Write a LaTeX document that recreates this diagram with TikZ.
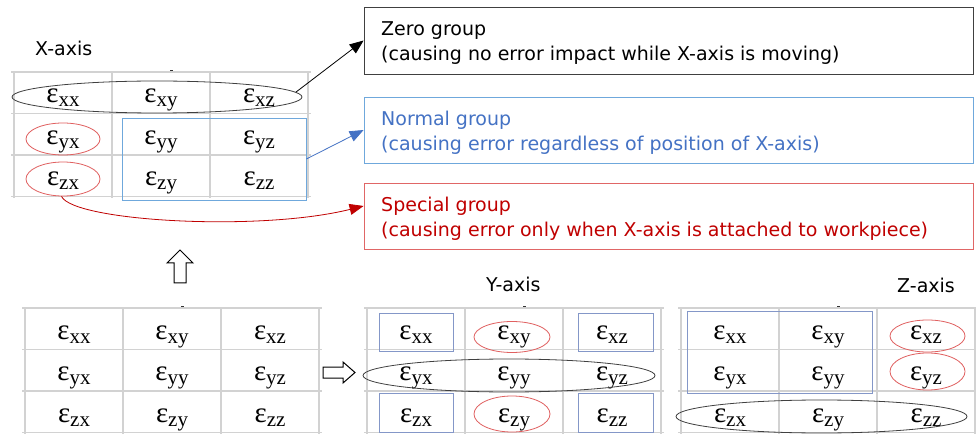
\documentclass[tikz,border=0pt]{standalone}
\usepackage{fontspec}
\usetikzlibrary{shapes.geometric,arrows.meta,calc}
\newfontfamily\labelfont{DejaVu Sans}
\newfontfamily\symfont{Liberation Serif}
\definecolor{gridgray}{RGB}{210,210,210}
\definecolor{ringgray}{RGB}{64,64,64}
\definecolor{ringred}{RGB}{224,96,96}
\definecolor{boxblue}{RGB}{111,168,220}
\definecolor{textblue}{RGB}{68,114,196}
\definecolor{slateblue}{RGB}{132,151,200}
\definecolor{textred}{RGB}{192,0,0}
\definecolor{boxred}{RGB}{224,102,102}

% strain component: epsilon with a two-letter subscript
\newcommand\strain[1]{{\symfont\fontsize{29}{29}\selectfont ε\raisebox{-4pt}{\fontsize{21}{21}\selectfont #1}}}

\tikzset{
  cell/.style={anchor=base, inner sep=0pt},
  ring/.style={ellipse, draw=ringgray, line width=0.8pt, inner sep=0pt},
  redring/.style={ellipse, draw=ringred, line width=0.8pt, inner sep=0pt},
  gridline/.style={draw=gridgray, line width=1.5pt},
  framebox/.style={rectangle, line width=0.8pt, inner sep=0pt, minimum width=609pt, minimum height=66pt},
  bluebox/.style={rectangle, draw=boxblue, line width=0.8pt, inner sep=0pt},
  slatebox/.style={rectangle, draw=slateblue, line width=0.8pt, inner sep=0pt},
  axislabel/.style={anchor=base west, inner sep=0pt, font=\labelfont\fontsize{19}{23}\selectfont},
  grouptext/.style={anchor=base west, inner sep=0pt, font=\labelfont\fontsize{19}{23}\selectfont},
  groupArrow/.style={-{Triangle[length=14pt,width=11pt]}, line width=0.8pt},
  blockarrow/.style={draw=black, line width=1pt, fill=white},
}

% 3x3 strain table: #1 name prefix, #2 left x, #3 top y (measured downward)
\newcommand\straintable[3]{%
  \foreach \i in {0,...,3} {
    \draw[gridline] ({#2-3}, {-#3-\i*41.5}) -- ({#2+297}, {-#3-\i*41.5});
    \draw[gridline] ({#2+\i*98}, {-#3}) -- ({#2+\i*98}, {-#3-126});
  }
  \fill[black!80] ({#2+156},{-#3+0.6}) rectangle ++(3,1.8);
  \foreach \r [count=\ri from 0] in {x,y,z} {
    \foreach \c [count=\ci from 0] in {x,y,z} {
      \node[cell] (#1\r\c) at ({#2+49+\ci*98}, {-#3-31-\ri*41.5}) {\strain{\r\c}};
    }
  }
}

\begin{document}
\begin{tikzpicture}[x=1pt,y=1pt]
\fill[white] (0,0) rectangle (976,-435);
\useasboundingbox (0,0) rectangle (976,-435);

% the four tables
\straintable{X}{14}{72}
\straintable{B}{25}{308}
\straintable{Y}{367}{308}
\straintable{Z}{681}{308}

% axis names
\node[axislabel] (xlabel) at (35,-56) {X-axis};
\node[axislabel] (ylabel) at (486,-291) {Y-axis};
\node[axislabel] (zlabel) at (897,-292) {Z-axis};

% groups for the X-axis
\node[ring, minimum width=290pt, minimum height=32pt] (xrow) at (157,-97) {};
\node[redring, minimum width=74pt, minimum height=32pt] (xyx) at (63,-139) {};
\node[redring, minimum width=74pt, minimum height=34pt] (xzx) at (63,-179) {};
\node[bluebox, minimum width=184pt, minimum height=82pt] (xnorm) at (214,-159) {};

% groups for the Y-axis
\node[slatebox, minimum width=74pt, minimum height=38pt] (yxx) at (416,-332) {};
\node[slatebox, minimum width=75pt, minimum height=38pt] (yxz) at (615.5,-332) {};
\node[slatebox, minimum width=74pt, minimum height=39pt] (yzx) at (416,-412.5) {};
\node[slatebox, minimum width=75pt, minimum height=39pt] (yzz) at (615.5,-412.5) {};
\node[redring, minimum width=76pt, minimum height=31pt] (yxy) at (512,-337) {};
\node[redring, minimum width=76pt, minimum height=36pt] (yzy) at (512,-414) {};
\node[ring, minimum width=292pt, minimum height=33pt] (yrow) at (509,-375.5) {};

% groups for the Z-axis
\node[slatebox, minimum width=185pt, minimum height=82pt] (znorm) at (779.5,-352) {};
\node[redring, minimum width=75pt, minimum height=32pt] (zxz) at (927.5,-336) {};
\node[redring, minimum width=75pt, minimum height=37pt] (zyz) at (927.5,-371.5) {};
\node[ring, minimum width=291pt, minimum height=33pt] (zrow) at (821.5,-416.5) {};

% legend boxes
\node[framebox, draw=ringgray, minimum height=67pt] (zero) at (668.5,-40.5) {};
\node[grouptext] (zero1) at (381,-36) {Zero group};
\node[grouptext] (zero2) at (381,-61) {(causing no error impact while X-axis is moving)};

\node[framebox, draw=boxblue] (normal) at (668.5,-130) {};
\node[grouptext, text=textblue] (normal1) at (381,-126) {Normal group};
\node[grouptext, text=textblue] (normal2) at (381,-151) {(causing error regardless of position of X-axis)};

\node[framebox, draw=boxred] (special) at (668.5,-216) {};
\node[grouptext, text=textred] (special1) at (381,-212) {Special group};
\node[grouptext, text=textred] (special2) at (381,-237) {(causing error only when X-axis is attached to workpiece)};

% connectors from the groups to their legend boxes
\draw[groupArrow, black] (xrow.2) -- (zero.west);
\draw[groupArrow, textblue] (xnorm.east) -- (normal.west);
\coordinate (specialin) at ($(special.north west)!0.35!(special.south west)$);
\draw[groupArrow, textred] (xzx.265) .. controls ($(xzx.265)+(12,-25)$) and ($(specialin)+(-104,-26)$) .. (specialin);

% hollow block arrows
\draw[blockarrow] (180,-250) -- (193,-263) -- (186,-263) -- (186,-283) -- (174,-283)
  -- (174,-263) -- (167,-263) -- cycle;
\draw[blockarrow] (355,-372.5) -- (343,-362) -- (343,-367) -- (323,-367) -- (323,-378)
  -- (343,-378) -- (343,-383) -- cycle;
\end{tikzpicture}
\end{document}
